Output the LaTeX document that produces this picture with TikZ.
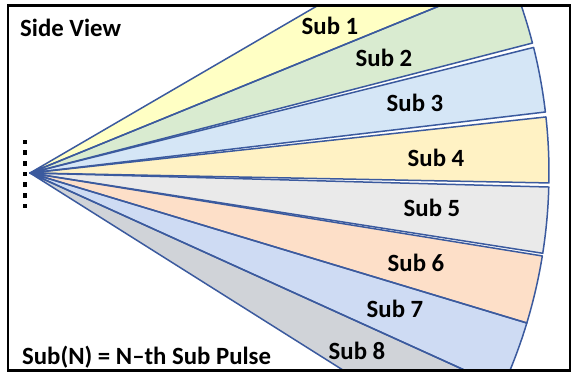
\documentclass[tikz,border=0pt]{standalone}
\usepackage{fontspec}
\setmainfont{Carlito}
\definecolor{edgeblue}{HTML}{3B5A9E}
\definecolor{cSubA}{HTML}{FFFFC4}
\definecolor{cSubB}{HTML}{D9EBD0}
\definecolor{cSubC}{HTML}{D5E6F6}
\definecolor{cSubD}{HTML}{FFF2C4}
\definecolor{cSubE}{HTML}{EAEAEA}
\definecolor{cSubF}{HTML}{FDDFC8}
\definecolor{cSubG}{HTML}{CEDBF3}
\definecolor{cSubH}{HTML}{D0D3D8}
\begin{document}
\begin{tikzpicture}[x=1pt,y=1pt,
  wedgeline/.style={draw=edgeblue, line width=1.5pt, line join=round},
  lbl/.style={font=\bfseries\fontsize{24.8}{28}\selectfont, anchor=base, inner sep=0pt},
  dotsq/.style={fill=black, minimum size=4.6pt, inner sep=0pt}]
\useasboundingbox (0,0) rectangle (573,374);
\coordinate (apex) at (30,201);
% sectors of the fan, clipped to the frame
\begin{scope}
  \clip (8,3.5) rectangle (570,368.5);
  \foreach \a/\b/\c in {30.2/22.2/cSubA, 22.2/14.5/cSubB, 14.0/6.75/cSubC, 6.2/-1.1/cSubD,
                        -1.55/-8.9/cSubE, -9.2/-16.8/cSubF, -16.8/-24.4/cSubG, -24.4/-32.2/cSubH}
    \fill[\c] (apex) -- ++(\a:519) arc[start angle=\a, end angle=\b, radius=519] -- cycle;
  \foreach \a/\b in {30.2/22.2, 22.2/14.5, 14.0/6.75, 6.2/-1.1,
                     -1.55/-8.9, -9.2/-16.8, -16.8/-24.4, -24.4/-32.2}
    \draw[wedgeline] (apex) -- ++(\a:519) arc[start angle=\a, end angle=\b, radius=519] -- cycle;
\end{scope}
% outer frame
\draw[line width=2.7pt] (8,3.5) rectangle (570,368.5);
% column of source elements
\foreach \i in {0,...,6}
  \node[dotsq] (el\i) at (25, 232-\i*10.67) {};
% labels
\node[lbl, anchor=base west] (title) at (20,337) {Side View};
\node[lbl, anchor=base west] (legend) at (22,9) {Sub(N) = N–th Sub Pulse};
\node[lbl] (s1) at (330,339) {Sub 1};
\node[lbl] (s2) at (384,307) {Sub 2};
\node[lbl] (s3) at (415,262) {Sub 3};
\node[lbl] (s4) at (436,207) {Sub 4};
\node[lbl] (s5) at (432,157) {Sub 5};
\node[lbl] (s6) at (416,102) {Sub 6};
\node[lbl] (s7) at (395,56) {Sub 7};
\node[lbl] (s8) at (357,14) {Sub 8};
\end{tikzpicture}
\end{document}
